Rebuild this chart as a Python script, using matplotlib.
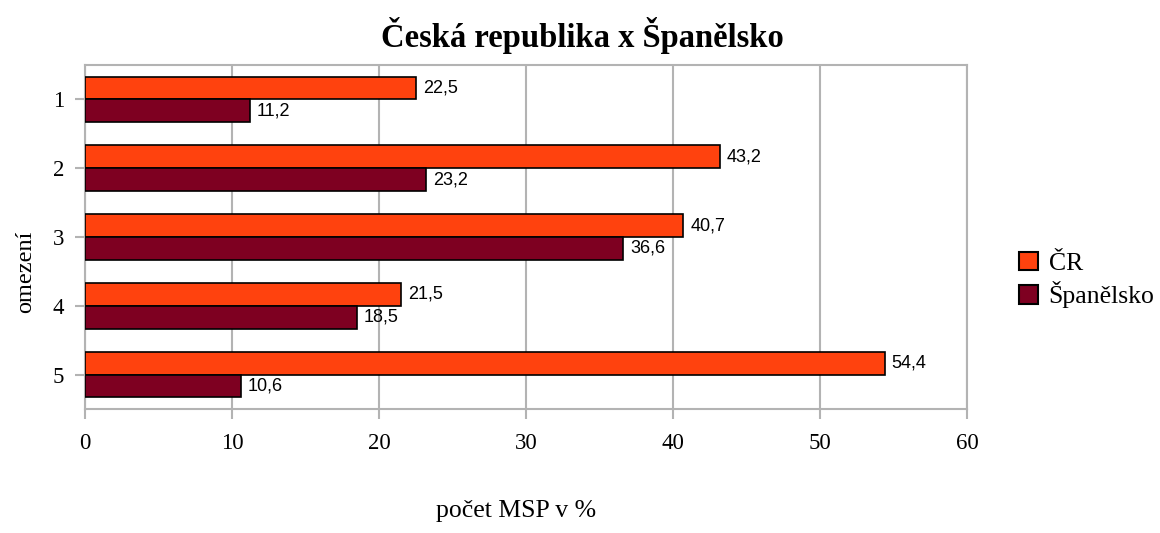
import matplotlib
matplotlib.use("Agg")
import matplotlib.pyplot as plt
import numpy as np
from matplotlib.patches import Patch

categories = ["1", "2", "3", "4", "5"]
cr_values = [22.5, 43.2, 40.7, 21.5, 54.4]
es_values = [11.2, 23.2, 36.6, 18.5, 10.6]
series_names = ["ČR", "Španělsko"]
xticks = [0, 10, 20, 30, 40, 50, 60]

c_cr = "#FF420E"
c_es = "#7E0021"
grid_c = "#B3B3B3"
serif = ["Liberation Serif", "DejaVu Serif"]
sans = ["Liberation Sans", "DejaVu Sans"]

fig = plt.figure(figsize=(11.6, 5.33), dpi=100)
ax = fig.add_axes([85/1160, 1-409/533, (967-85)/1160, (409-65)/533])

y = np.arange(len(categories))
h = 0.33
b1 = ax.barh(y - h/2, cr_values, height=h, color=c_cr, edgecolor="black", linewidth=1.2, zorder=3)
b2 = ax.barh(y + h/2, es_values, height=h, color=c_es, edgecolor="black", linewidth=1.2, zorder=3)

for bars, vals in ((b1, cr_values), (b2, es_values)):
    ax.bar_label(bars, labels=[f"{v:.1f}".replace(".", ",") for v in vals],
                 padding=5, fontsize=13, family=sans, color="black")

ax.set_xlim(0, 60)
ax.set_ylim(len(categories) - 0.5, -0.5)
ax.set_xticks(xticks)
ax.set_xticklabels([str(t) for t in xticks], family=serif, fontsize=16.5)
ax.set_yticks(y)
ax.set_yticklabels(categories, family=serif, fontsize=16.5)
ax.tick_params(axis="both", color=grid_c, width=1.5, length=7)
ax.tick_params(axis="y", pad=8)
ax.tick_params(axis="x", pad=10)
ax.grid(axis="x", color=grid_c, linewidth=1.5, zorder=0)
for s in ax.spines.values():
    s.set_color(grid_c)
    s.set_linewidth(1.5)

fig.text(26/1160, 1-272/533, "omezení", family=serif, fontsize=17.5, rotation=90,
         ha="center", va="center")
fig.text(516/1160, 1-511/533, "počet MSP v %", family=serif, fontsize=18.5, ha="center", va="center")
fig.text(582/1160, 1-36/533, "Česká republika x Španělsko", family=serif, fontsize=23.5,
         fontweight="bold", ha="center", va="center")

handles = [Patch(facecolor=c_cr, edgecolor="black", linewidth=1.5),
           Patch(facecolor=c_es, edgecolor="black", linewidth=1.5)]
leg = fig.legend(handles, series_names, loc="center left", bbox_to_anchor=(1019/1160, 1-280/533),
                 frameon=False, prop={"family": serif, "size": 18.5}, handlelength=0.75, handleheight=0.75,
                 handletextpad=0.4, labelspacing=0.25, borderaxespad=0, borderpad=0)

fig.savefig("out.png", dpi=100)
